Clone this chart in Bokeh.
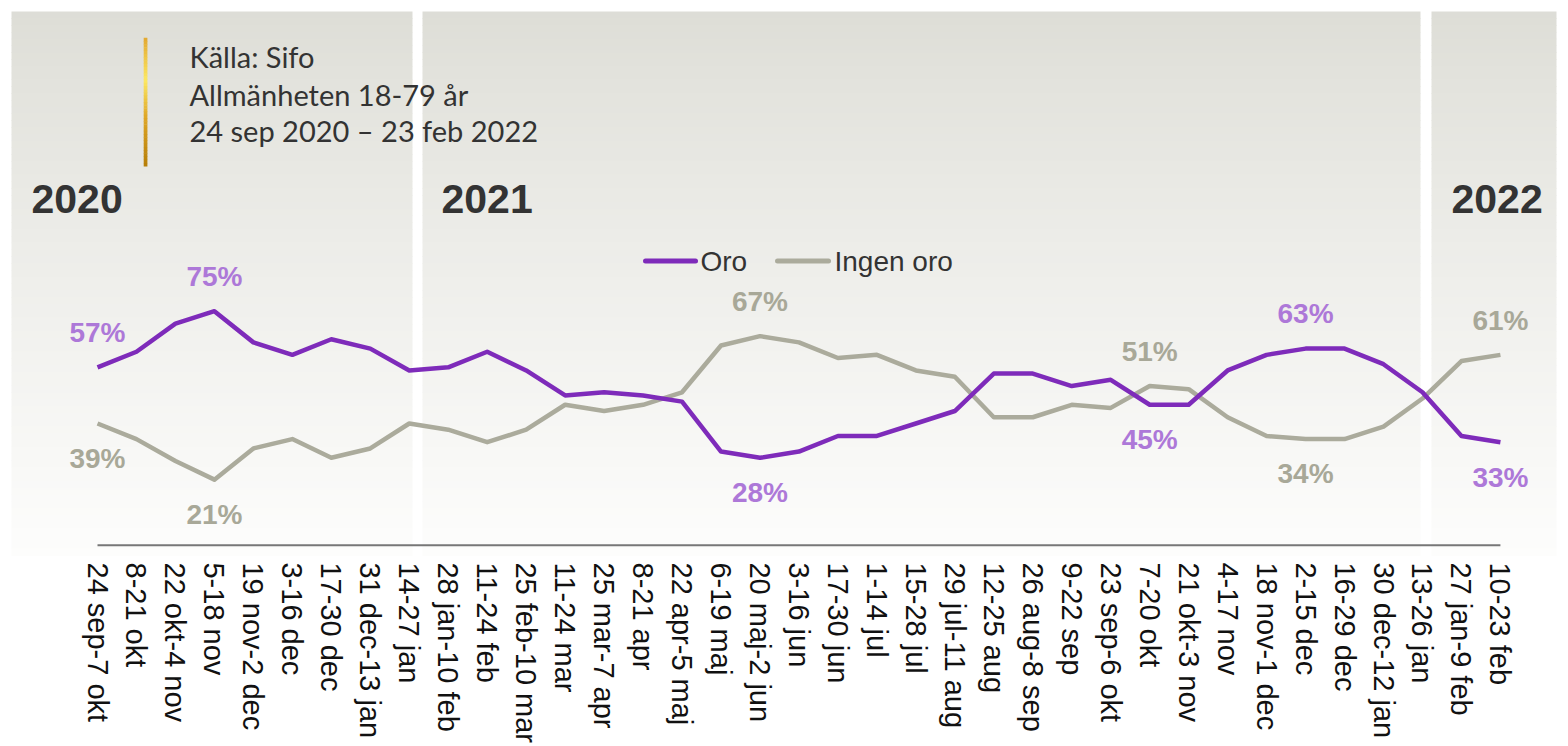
import math
from bokeh.plotting import figure
from bokeh.models import Range1d, FixedTicker, ColumnDataSource
from bokeh.core.properties import value
from bokeh.embed import file_html
from bokeh.resources import INLINE

# ---------------- data ----------------
categories = [
    "24 sep-7 okt", "8-21 okt", "22 okt-4 nov", "5-18 nov", "19 nov-2 dec",
    "3-16 dec", "17-30 dec", "31 dec-13 jan", "14-27 jan", "28 jan-10 feb",
    "11-24 feb", "25 feb-10 mar", "11-24 mar", "25 mar-7 apr", "8-21 apr",
    "22 apr-5 maj", "6-19 maj", "20 maj-2 jun", "3-16 jun", "17-30 jun",
    "1-14 jul", "15-28 jul", "29 jul-11 aug", "12-25 aug", "26 aug-8 sep",
    "9-22 sep", "23 sep-6 okt", "7-20 okt", "21 okt-3 nov", "4-17 nov",
    "18 nov-1 dec", "2-15 dec", "16-29 dec", "30 dec-12 jan", "13-26 jan",
    "27 jan-9 feb", "10-23 feb",
]
oro = [57, 62, 71, 75, 65, 61, 66, 63, 56, 57, 62, 56, 48, 49, 48, 46, 30, 28, 30,
       35, 35, 39, 43, 55, 55, 51, 53, 45, 45, 56, 61, 63, 63, 58, 49, 35, 33]
ingen_oro = [39, 34, 27, 21, 31, 34, 28, 31, 39, 37, 33, 37, 45, 43, 45, 49, 64, 67, 65,
             60, 61, 56, 54, 41, 41, 45, 44, 51, 50, 41, 35, 34, 34, 38, 47, 59, 61]
series_names = ["Oro", "Ingen oro"]
years = ["2020", "2021", "2022"]
# indices of points that carry a value label
oro_label_idx = [0, 3, 17, 27, 31, 36]
oro_label_above = [True, True, False, False, True, False]
ingen_label_idx = [0, 3, 17, 27, 31, 36]
ingen_label_above = [False, False, True, True, False, True]
source_lines = ["Källa: Sifo", "Allmänheten 18-79 år", "24 sep 2020 \u2013 23 feb 2022"]

# ---------------- styles ----------------
PURPLE = "#7E2BBA"
PURPLE_LBL = "#AD78D8"
GREY = "#ABAB9C"
GREY_LBL = "#A8A898"
DARK = "#333333"
ARIAL = value("Liberation Sans")

# page-pixel <-> data mapping (frame occupies page x 8..1560, y 8..560)
X0, DX = 97.0, 38.97
Y0, DY = 547.6, 3.137
def dx(px): return (px - X0) / DX
def dy(py): return (Y0 - py) / DY

p = figure(width=1560, height=746,
           x_range=Range1d(dx(8), dx(1560)), y_range=Range1d(dy(560), dy(8)),
           output_backend="svg", toolbar_location=None, y_axis_location=None,
           min_border_left=8, min_border_right=0, min_border_top=8, min_border_bottom=186)
p.outline_line_color = None
p.grid.visible = False
p.background_fill_color = "white"
p.border_fill_color = "white"

# ---------------- gradient panels ----------------
panels = [(11, 412), (422, 1420), (1431, 1556)]
top_c = (221, 221, 214)
bot_c = (253, 253, 252)
n = 80
g_top, g_bot = 11, 558
L, R, T, B, C = [], [], [], [], []
for k in range(n):
    y1 = g_top + (g_bot - g_top) * k / n
    y2 = g_top + (g_bot - g_top) * (k + 1) / n
    t = ((k + 0.5) / n) ** 0.85
    col = tuple(int(round(top_c[i] + (bot_c[i] - top_c[i]) * t)) for i in range(3))
    hexc = "#%02x%02x%02x" % col
    for (a, b) in panels:
        L.append(dx(a)); R.append(dx(b)); T.append(dy(y1)); B.append(dy(y2 + 0.6)); C.append(hexc)
p.quad(source=ColumnDataSource(dict(l=L, r=R, t=T, b=B, c=C)),
       left="l", right="r", top="t", bottom="b", fill_color="c", line_color=None)

# ---------------- gold bar ----------------
stops = [(0.0, (226, 168, 48)), (0.33, (252, 232, 100)), (0.62, (222, 166, 38)), (1.0, (182, 126, 8))]
def gold(t):
    for (t1, c1), (t2, c2) in zip(stops[:-1], stops[1:]):
        if t1 <= t <= t2:
            f = (t - t1) / (t2 - t1)
            return "#%02x%02x%02x" % tuple(int(round(c1[i] + (c2[i] - c1[i]) * f)) for i in range(3))
    return "#b67e08"
gL, gR, gT, gB, gC = [], [], [], [], []
m = 40
for k in range(m):
    y1 = 37.5 + (166.5 - 37.5) * k / m
    y2 = 37.5 + (166.5 - 37.5) * (k + 1) / m
    gL.append(dx(143.2)); gR.append(dx(146.9)); gT.append(dy(y1)); gB.append(dy(y2 + 0.4))
    gC.append(gold((k + 0.5) / m))
p.quad(source=ColumnDataSource(dict(l=gL, r=gR, t=gT, b=gB, c=gC)),
       left="l", right="r", top="t", bottom="b", fill_color="c", line_color=None)

# ---------------- source text ----------------
p.text(x=[dx(189)] * 3, y=[dy(56.5), dy(94.5), dy(130.5)], text=source_lines,
       text_font=value("Lato"), text_font_size="29px", text_color=DARK,
       text_align="left", text_baseline="middle")

# ---------------- year labels ----------------
p.text(x=[dx(31), dx(441), dx(1451)], y=[dy(199.5)] * 3, text=years,
       text_font=ARIAL, text_font_style="bold", text_font_size="41px",
       text_color=DARK, text_align="left", text_baseline="middle")

# ---------------- legend ----------------
ly = dy(262)
p.line(x=[dx(645), dx(695)], y=[ly, ly], line_color=PURPLE, line_width=5, line_cap="round")
p.line(x=[dx(777), dx(828)], y=[ly, ly], line_color=GREY, line_width=5, line_cap="round")
p.text(x=[dx(700), dx(834)], y=[ly, ly], text=series_names, text_font=ARIAL,
       text_font_size="28px", text_color=DARK, text_align="left", text_baseline="middle")

# ---------------- baseline ----------------
p.line(x=[0, len(categories) - 1], y=[0, 0], line_color="#777777", line_width=2)

# ---------------- series ----------------
xs = list(range(len(categories)))
p.line(x=xs, y=ingen_oro, line_color=GREY, line_width=4.5, line_join="round")
p.line(x=xs, y=oro, line_color=PURPLE, line_width=4.5, line_join="round")

# ---------------- value labels ----------------
off = 35.0 / DY
def labels(idx, above, vals, color):
    ly_ = [vals[i] + (off if a else -off) for i, a in zip(idx, above)]
    lt = ["%d%%" % round(vals[i]) for i in idx]
    p.text(x=list(idx), y=ly_, text=lt, text_font=ARIAL, text_font_style="bold",
           text_font_size="28px", text_color=color, text_align="center",
           text_baseline="middle")
labels(oro_label_idx, oro_label_above, oro, PURPLE_LBL)
labels(ingen_label_idx, ingen_label_above, ingen_oro, GREY_LBL)

# ---------------- x axis ----------------
ax = p.xaxis[0]
ax.ticker = FixedTicker(ticks=xs)
ax.major_label_overrides = {i: c for i, c in enumerate(categories)}
ax.major_label_orientation = -math.pi / 2
ax.major_label_text_font = "Liberation Sans"
ax.major_label_text_font_size = "29px"
ax.major_label_text_color = "#111111"
ax.major_label_standoff = 5
ax.axis_line_color = None
ax.major_tick_line_color = None
ax.minor_tick_line_color = None
ax.major_tick_out = 0
ax.major_tick_in = 0

open("out.html", "w").write(file_html(p, INLINE))
